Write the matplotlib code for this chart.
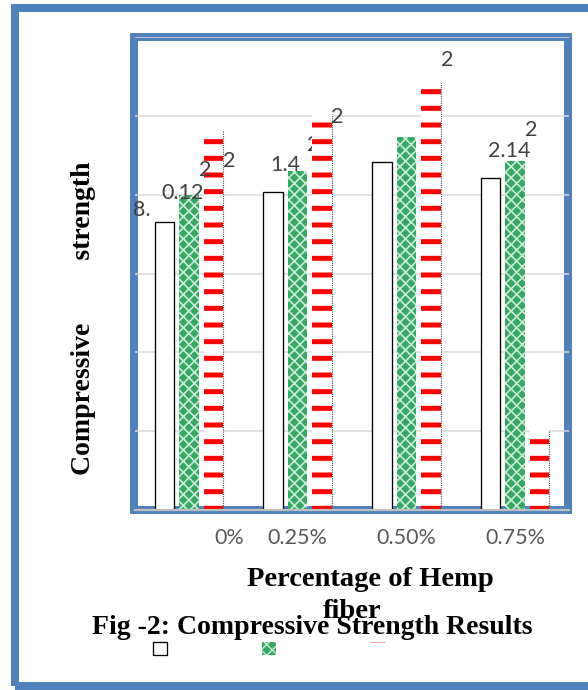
import matplotlib
matplotlib.use("Agg")
import matplotlib.pyplot as plt
import matplotlib.transforms as mtransforms
from matplotlib.patches import Rectangle
import numpy as np

# data (y axis has no numbers, gridlines every 1 unit)
categories = ["0%", "0.25%", "0.50%", "0.75%"]
plain_vals = [3.66, 4.03, 4.41, 4.21]
green_vals = [4.00, 4.30, 4.73, 4.43]
red_vals = [4.82, 5.03, 5.43, 1.02]

# the data labels as they show up (partly broken in the original)
label_texts = ["8.", "0.12", "2", "2", "2", "1.4", "2", "2", "2.14", "2"]
label_xy = [(-0.35, 3.81), (-0.06, 4.02), (0.148, 4.31), (0.368, 4.43),
            (1.141, 4.63), (0.884, 4.38), (1.362, 4.99), (2.374, 5.71),
            (2.944, 4.56), (3.147, 4.82)]
label_behind = [False, False, False, False, True, False, False, False, False, False]

W, H = 588, 690
BLUE = "#4f81bd"


def fx(px):
    return px / W


def fy(py):
    return 1 - py / H


fig = plt.figure(figsize=(W / 100, H / 100), dpi=100)
fig.patch.set_facecolor("white")

# outer frame and chart frame
lw_frame = 8 * 72 / 100
outer = Rectangle((fx(15), fy(686)), fx(610) - fx(15), fy(8) - fy(686),
                  transform=fig.transFigure, fill=False, edgecolor=BLUE,
                  linewidth=lw_frame, zorder=-2)
inner = Rectangle((fx(134), fy(510)), fx(568) - fx(134), fy(37) - fy(510),
                  transform=fig.transFigure, fill=False, edgecolor=BLUE,
                  linewidth=lw_frame, zorder=-2)
fig.patches.append(outer)
fig.patches.append(inner)

ax = fig.add_axes([fx(134.6), fy(510), fx(569.4) - fx(134.6), fy(37.2) - fy(510)])
ax.set_facecolor("none")
ax.set_xlim(-0.5, 3.5)
ax.set_ylim(0, 6)

x = np.arange(len(categories))
w = 0.18
step = 0.225

b1 = ax.bar(x - step, plain_vals, w, color="white", edgecolor="black",
            linewidth=0.95, zorder=2)
with plt.rc_context({"hatch.linewidth": 1.2}):
    b2 = ax.bar(x, green_vals, w, color="#36a864", edgecolor="#c8ecd5",
                linewidth=0, hatch="xxx", zorder=2)
with plt.rc_context({"hatch.linewidth": 3.6}):
    b3 = ax.bar(x + step, red_vals, w, color="white", edgecolor="#ff0000",
                linewidth=0, hatch="-", zorder=2)
for bars, hl in ((b2, 1.2), (b3, 3.6)):
    for p in bars:
        if hasattr(p, "set_hatch_linewidth"):
            p.set_hatch_linewidth(hl)

# dotted right edge on the red bars
ax.vlines(x + step + w / 2, 0, red_vals, colors="#555555",
          linestyles=(0, (1, 1)), linewidth=0.8, zorder=2.5)

for t, (lx, ly), behind in zip(label_texts, label_xy, label_behind):
    ax.text(lx, ly, t, ha="right" if t == "8." else "center", va="center",
            fontsize=15.5, family="Lato", color="#404040",
            zorder=1 if behind else 3)

ax.set_yticks(range(7))
ax.set_yticklabels([])
ax.tick_params(axis="y", length=0)
ax.grid(axis="y", color="#d9d9d9", linewidth=1.1)
ax.set_axisbelow(True)

ax.set_xticks(x, categories)
ax.tick_params(axis="x", length=0, pad=13, labelsize=15.5, labelcolor="#595959")
for lab in ax.get_xticklabels():
    lab.set_family("Lato")
first = ax.get_xticklabels()[0]
first.set_transform(first.get_transform() +
                    mtransforms.ScaledTranslation(0.40, 0, fig.dpi_scale_trans))

for s in ("left", "top", "right"):
    ax.spines[s].set_visible(False)
ax.spines["bottom"].set_color("#bfbfbf")
ax.spines["bottom"].set_linewidth(1.6)
ax.spines["bottom"].set_zorder(5)

serif = dict(family="Liberation Serif", weight="bold", color="black")
fig.text(fx(84), fy(318), "Compressive         strength", rotation=90,
         ha="center", va="center", fontsize=20, **serif)
fig.text(fx(370), fy(580), "Percentage of Hemp", ha="center", va="center",
         fontsize=20.5, **serif)
fig.text(fx(352), fy(612), "fiber", ha="center", va="center",
         fontsize=20.5, **serif)
fig.text(fx(312), fy(628), "Fig -2: Compressive Strength Results",
         ha="center", va="center", fontsize=20, **serif)

fig.legend([b1, b2, b3], ["", "", ""], ncol=3, loc="center",
           bbox_to_anchor=(fx(269), fy(649)), frameon=False, fontsize=10,
           handlelength=1.0, handleheight=1.1, handletextpad=0,
           columnspacing=6.84)

fig.savefig("out.png", dpi=100)
